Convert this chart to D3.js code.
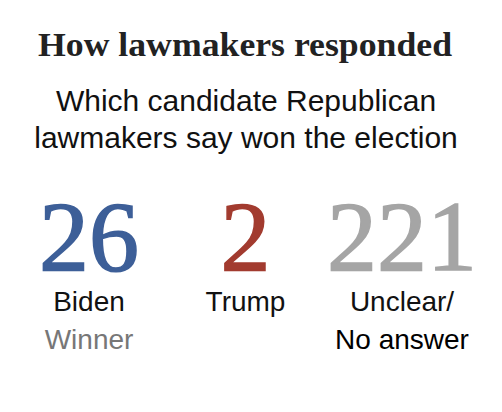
<!DOCTYPE html>
<html><head><meta charset="utf-8">
<script src="https://cdn.jsdelivr.net/npm/d3@7"></script>
<style>body{margin:0;background:#fff}</style></head>
<body><svg id="c" width="502" height="412"></svg>
<script>
const categories = ["Biden", "Trump", "Unclear/"];
const subLabels = ["Winner", "", "No answer"];
const values = [26, 2, 221];
const colors = ["#3d5f98", "#a23b2f", "#a5a5a5"];
const subColors = ["#777777", "#000", "#000"];

const svg = d3.select("#c");
svg.append("text").attr("x", 245).attr("y", 56).attr("text-anchor", "middle")
  .attr("font-family", "Liberation Serif, serif").attr("font-weight", "bold")
  .attr("font-size", 33).attr("textLength", 414).attr("lengthAdjust", "spacingAndGlyphs")
  .attr("fill", "#222").text("How lawmakers responded");
const sub = ["Which candidate Republican", "lawmakers say won the election"];
svg.selectAll("text.sub").data(sub).join("text").attr("class", "sub")
  .attr("x", 246).attr("y", (d, i) => 111 + i * 37).attr("text-anchor", "middle")
  .attr("font-family", "Liberation Sans, Arial, sans-serif").attr("font-size", 30)
  .attr("fill", "#111").text(d => d);

const x = d3.scalePoint().domain(categories).range([89, 402]);
const g = svg.selectAll("g.col").data(categories).join("g").attr("class", "col")
  .attr("transform", d => `translate(${x(d)},0)`);
g.append("text").attr("y", 270).attr("text-anchor", "middle")
  .attr("font-family", "Liberation Serif, serif").attr("font-size", 100)
  .attr("stroke", (d, i) => colors[i]).attr("stroke-width", 1.5)
  .attr("fill", (d, i) => colors[i]).text((d, i) => values[i]);
g.append("text").attr("y", 311).attr("text-anchor", "middle")
  .attr("font-family", "Liberation Sans, Arial, sans-serif").attr("font-size", 28)
  .attr("fill", "#111").text(d => d);
g.append("text").attr("y", 349).attr("text-anchor", "middle")
  .attr("font-family", "Liberation Sans, Arial, sans-serif").attr("font-size", 28)
  .attr("fill", (d, i) => subColors[i]).text((d, i) => subLabels[i]);
</script></body></html>
